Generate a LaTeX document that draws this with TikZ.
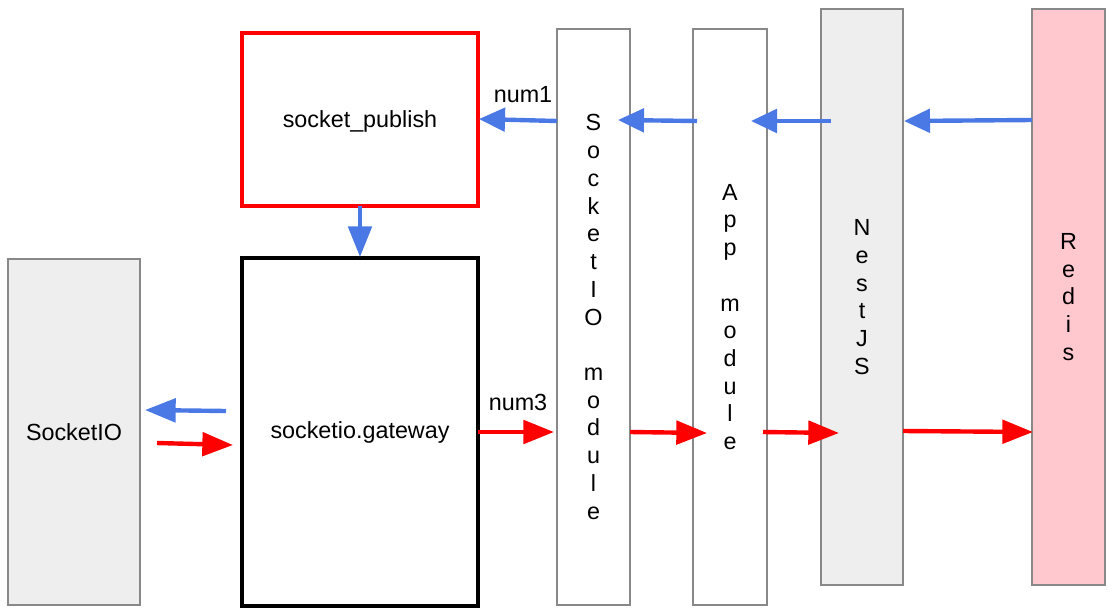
\documentclass[tikz,border=0pt]{standalone}
\usepackage{fontspec}
\setmainfont{Liberation Sans}
\usetikzlibrary{arrows.meta}
\definecolor{arrblue}{RGB}{74,120,228}
\definecolor{boxgray}{RGB}{238,238,238}
\definecolor{edgegray}{RGB}{136,136,136}
\definecolor{redispink}{RGB}{255,199,206}
\begin{document}
\begin{tikzpicture}[x=0.75pt,y=-0.75pt,
  every node/.style={font=\fontsize{17.5}{20.8}\selectfont},
  graybox/.style={draw=edgegray,line width=1pt,inner sep=0pt,align=center},
  thickbox/.style={draw,line width=3pt,fill=white,inner sep=0pt},
  arr/.style={line width=3.3pt,-{Triangle[length=23pt,width=17.5pt]}},
  shortarr/.style={line width=3.3pt,-{Triangle[length=19.5pt,width=17.5pt]}},
  barr/.style={arr,draw=arrblue,fill=arrblue},
  sbarr/.style={shortarr,draw=arrblue,fill=arrblue},
  rarr/.style={arr,draw=red,fill=red},
  lbl/.style={inner sep=0pt}]
\useasboundingbox (0,0) rectangle (1114,615);
% boxes
\node[graybox,fill=boxgray,minimum width=99pt,minimum height=259.5pt] (sio) at (74,432) {SocketIO};
\node[thickbox,draw=red,minimum width=177pt,minimum height=129.75pt,text depth=0pt] (pub) at (360,119.5) {socket\_publish};
\node[thickbox,draw=black,minimum width=177pt,minimum height=261pt] (gw) at (360,432) {socketio.gateway};
\node[graybox,fill=white,minimum width=54.75pt,minimum height=432pt] (siom) at (593.5,317)
  {S\\o\\c\\k\\e\\t\\I\\O\\\mbox{}\\m\\o\\d\\u\\l\\e};
\node[graybox,fill=white,minimum width=55.5pt,minimum height=432pt] (app) at (730,317)
  {A\\p\\p\\\mbox{}\\m\\o\\d\\u\\l\\e};
\node[graybox,fill=boxgray,minimum width=61.5pt,minimum height=432pt] (nest) at (862,297)
  {N\\e\\s\\t\\J\\S};
\node[graybox,fill=redispink,minimum width=54.75pt,minimum height=432pt] (redis) at (1068.5,297)
  {R\\e\\d\\i\\s};
% labels
\node[lbl] (n1) at (523,95) {num1};
\node[lbl] (n3) at (518,402) {num3};
% arrow end coordinates
\coordinate (b1s) at (1032,120); \coordinate (b1e) at (904,121);
\coordinate (b2s) at (831,121);  \coordinate (b2e) at (751,121);
\coordinate (b3s) at (697,121);  \coordinate (b3e) at (618,120);
\coordinate (b4s) at (557,121);  \coordinate (b4e) at (479,119);
\coordinate (b5s) at (360,206);  \coordinate (b5e) at (360,257);
\coordinate (b6s) at (226,411);  \coordinate (b6e) at (145,410);
\coordinate (r1s) at (157,443);  \coordinate (r1e) at (233,445);
\coordinate (r2s) at (478,432);  \coordinate (r2e) at (554,432);
\coordinate (r3s) at (630,432);  \coordinate (r3e) at (707,433);
\coordinate (r4s) at (763,432);  \coordinate (r4e) at (839,433);
\coordinate (r5s) at (903,431);  \coordinate (r5e) at (1033,432);
% blue arrows
\draw[sbarr] (b1s) -- (b1e);
\draw[sbarr] (b2s) -- (b2e);
\draw[sbarr] (b3s) -- (b3e);
\draw[sbarr] (b4s) -- (b4e);
\draw[barr] (b5s) -- (b5e);
\draw[barr] (b6s) -- (b6e);
% red arrows
\draw[rarr] (r1s) -- (r1e);
\draw[rarr] (r2s) -- (r2e);
\draw[rarr] (r3s) -- (r3e);
\draw[rarr] (r4s) -- (r4e);
\draw[rarr] (r5s) -- (r5e);
\end{tikzpicture}
\end{document}
